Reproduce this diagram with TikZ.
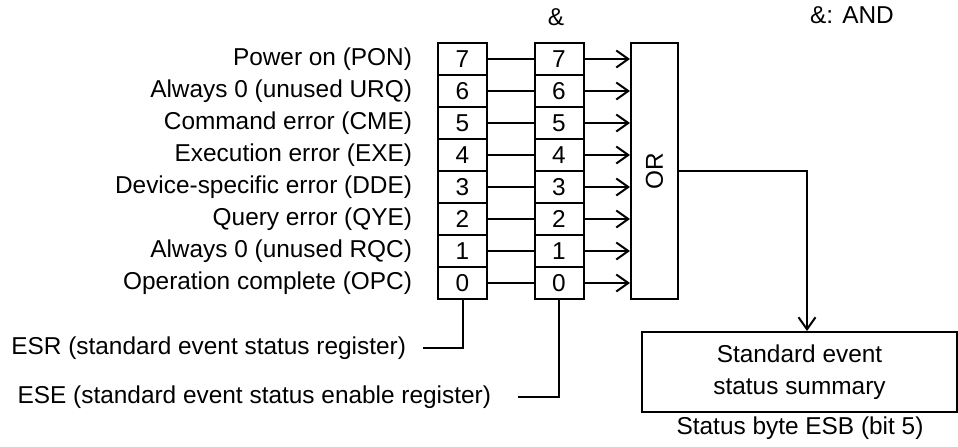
\documentclass[tikz,border=0pt]{standalone}
\usepackage{fontspec}
\setmainfont{Liberation Sans}
\usepackage{tikz}
\usetikzlibrary{positioning,calc,arrows.meta}

\begin{document}
\begin{tikzpicture}[
  x=0.5pt, y=-0.5pt, line width=1pt,
  font=\fontsize{12.2}{16}\selectfont,
  bitbox/.style={draw, minimum width=24.5pt, minimum height=16pt, inner sep=0pt},
  orbox/.style={draw, minimum width=23.5pt, minimum height=128pt, inner sep=0pt},
  sumbox/.style={draw, minimum width=157.5pt, minimum height=40pt, align=center, inner sep=0pt},
  lbl/.style={inner sep=0pt, anchor=east},
  fl/.style={-{Straight Barb[length=6pt, width=8.5pt, line width=1pt]}},
]
  \useasboundingbox (0,0) rectangle (958,446);

  %=================== header ===================
  \node (amp) at (556,17) {\&};
  \node (ampkey) at (852,15) {\&: AND};

  %=================== bit labels ===================
  \node[lbl] (l7) at (413,59)  {Power on (PON)};
  \node[lbl] (l6) at (413,91)  {Always 0 (unused URQ)};
  \node[lbl] (l5) at (413,123) {Command error (CME)};
  \node[lbl] (l4) at (413,155) {Execution error (EXE)};
  \node[lbl] (l3) at (413,187) {Device-specific error (DDE)};
  \node[lbl] (l2) at (413,219) {Query error (QYE)};
  \node[lbl] (l1) at (413,251) {Always 0 (unused RQC)};
  \node[lbl] (l0) at (413,283) {Operation complete (OPC)};

  %=================== ESR column ===================
  \node[bitbox] (r7) at (462.5,59)  {7};
  \node[bitbox] (r6) at (462.5,91)  {6};
  \node[bitbox] (r5) at (462.5,123) {5};
  \node[bitbox] (r4) at (462.5,155) {4};
  \node[bitbox] (r3) at (462.5,187) {3};
  \node[bitbox] (r2) at (462.5,219) {2};
  \node[bitbox] (r1) at (462.5,251) {1};
  \node[bitbox] (r0) at (462.5,283) {0};

  %=================== ESE column ===================
  \node[bitbox] (e7) at (559,59)  {7};
  \node[bitbox] (e6) at (559,91)  {6};
  \node[bitbox] (e5) at (559,123) {5};
  \node[bitbox] (e4) at (559,155) {4};
  \node[bitbox] (e3) at (559,187) {3};
  \node[bitbox] (e2) at (559,219) {2};
  \node[bitbox] (e1) at (559,251) {1};
  \node[bitbox] (e0) at (559,283) {0};

  %=================== OR gate ===================
  \node[orbox] (orgate) at (654.5,171) {};
  \node[rotate=90] (ortext) at (orgate.center) {OR};

  \draw (r7.east) -- (e7.west);  \draw[fl] (e7.east) -- (e7.east -| orgate.west);
  \draw (r6.east) -- (e6.west);  \draw[fl] (e6.east) -- (e6.east -| orgate.west);
  \draw (r5.east) -- (e5.west);  \draw[fl] (e5.east) -- (e5.east -| orgate.west);
  \draw (r4.east) -- (e4.west);  \draw[fl] (e4.east) -- (e4.east -| orgate.west);
  \draw (r3.east) -- (e3.west);  \draw[fl] (e3.east) -- (e3.east -| orgate.west);
  \draw (r2.east) -- (e2.west);  \draw[fl] (e2.east) -- (e2.east -| orgate.west);
  \draw (r1.east) -- (e1.west);  \draw[fl] (e1.east) -- (e1.east -| orgate.west);
  \draw (r0.east) -- (e0.west);  \draw[fl] (e0.east) -- (e0.east -| orgate.west);

  %=================== register names ===================
  \node[lbl] (esr) at (407,348) {ESR (standard event status register)};
  \node[lbl] (ese) at (492,397) {ESE (standard event status enable register)};
  \draw (r0.south) |- ([xshift=8pt]esr.east);
  \draw (e0.south) |- ([xshift=13pt]ese.east);

  %=================== summary ===================
  \node[sumbox] (summ) at (799.5,372) {Standard event\\status summary};
  \node (esb) at (800,428) {Status byte ESB (bit 5)};
  \coordinate (tap) at (807,171);
  \draw[fl] (orgate.east |- tap) -- (tap) -- (tap |- summ.north);
\end{tikzpicture}
\end{document}
